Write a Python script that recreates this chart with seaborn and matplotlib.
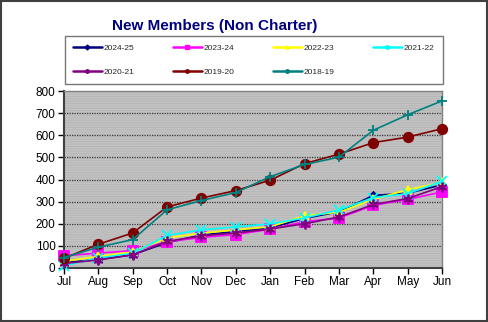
import matplotlib
matplotlib.use("Agg")
import matplotlib.pyplot as plt
from matplotlib.lines import Line2D
from matplotlib.patches import Rectangle
import seaborn as sns
import pandas as pd

months = ["Jul", "Aug", "Sep", "Oct", "Nov", "Dec", "Jan", "Feb", "Mar", "Apr", "May", "Jun"]

fy_2024_25 = [24, 38, 60, 114, 149, 165, 181, 224, 254, 328, 338, 376]
fy_2023_24 = [55, 67, 78, 118, 138, 151, 175, 209, 226, 283, 310, 344]
fy_2022_23 = [30, 52, 72, 136, 157, 172, 186, 236, 252, 310, 354, 387]
fy_2021_22 = [10, 45, 66, 147, 172, 186, 199, 226, 262, 318, 336, 392]
fy_2020_21 = [20, 36, 59, 120, 145, 158, 176, 200, 230, 287, 314, 368]
fy_2019_20 = [43, 107, 158, 276, 316, 350, 397, 472, 515, 567, 592, 630]
fy_2018_19 = [47, 94, 128, 263, 305, 341, 413, 468, 501, 623, 693, 756]

series_names = ["2024-25", "2023-24", "2022-23", "2021-22", "2020-21", "2019-20", "2018-19"]
series_values = [fy_2024_25, fy_2023_24, fy_2022_23, fy_2021_22, fy_2020_21, fy_2019_20, fy_2018_19]

colors = ["#000080", "#FF00FF", "#FFFF00", "#00FFFF", "#800080", "#800000", "#008080"]
markers = ["D", "s", "^", "x", (6, 2, 0), "o", "+"]
msizes = [3.5, 6.5, 5.5, 6.5, 7, 6.8, 7]

records = []
for name, vals in zip(series_names, series_values):
    for m, v in zip(months, vals):
        records.append({"Month": m, "Season": name, "Members": v})
df = pd.DataFrame(records)

sns.set_theme(style="white")
plt.rcParams["font.family"] = ["Liberation Sans", "DejaVu Sans"]
plt.rcParams["hatch.linewidth"] = 0.7

fig = plt.figure(figsize=(4.88, 3.22), dpi=100)
ax = fig.add_axes([0.131, 0.168, 0.775, 0.549])

palette = dict(zip(series_names, colors))
sns.lineplot(data=df, x="Month", y="Members", hue="Season",
             hue_order=series_names, palette=palette,
             sort=False, linewidth=1.2, ax=ax, legend=False)

for line, c, mk, ms in zip(ax.lines, colors, markers, msizes):
    line.set_marker(mk)
    line.set_markersize(ms)
    line.set_markerfacecolor(c)
    line.set_markeredgecolor(c)
    line.set_markeredgewidth(1.3)
    line.set_clip_on(False)
    line.set_zorder(3)

# striped grey plot area
ax.set_facecolor("#C2C2C2")
bg = Rectangle((0, 0), 1, 1, transform=ax.transAxes, facecolor="#C2C2C2",
               edgecolor="#B7B7B7", hatch="-------", lw=0, zorder=0)
ax.add_patch(bg)

ax.set_ylim(0, 800)
ax.set_xlim(0, len(months) - 1)
ax.set_yticks(range(0, 801, 100))
ax.set_xticks(range(len(months)))
ax.set_xticklabels(months)
for y in range(100, 800, 100):
    ax.axhline(y, color="#383838", linestyle=(0, (1, 1)), linewidth=0.9, zorder=1)

ax.set_xlabel("")
ax.set_ylabel("")
ax.tick_params(axis="both", labelsize=8.5, colors="#000000", length=4, width=1,
               direction="out", pad=2, left=True, bottom=True)
for side in ["left", "bottom"]:
    ax.spines[side].set_color("#404040")
    ax.spines[side].set_linewidth(1.5)
for side in ["top", "right"]:
    ax.spines[side].set_color("#808080")
    ax.spines[side].set_linewidth(1.0)

fig.text(0.44, 0.92, "New Members (Non Charter)", ha="center", va="center",
         fontsize=11, fontweight="bold", color="#000080")

handles = [Line2D([0], [0], color=c, lw=1.8, marker=m if m not in ("x", "+", (6, 2, 0)) else "o",
                  markersize=2.5, markerfacecolor=c, markeredgecolor=c)
           for c, m in zip(colors, markers)]
order = [0, 4, 1, 5, 2, 6, 3]
leg = fig.legend([handles[i] for i in order], [series_names[i] for i in order],
                 ncol=4, loc="lower left", bbox_to_anchor=(0.133, 0.738, 0.775, 0.152),
                 mode="expand", fontsize=6, frameon=True, fancybox=False,
                 handlelength=3.4, handletextpad=0.3, borderaxespad=0,
                 labelspacing=1.9, borderpad=1.0)
leg.get_frame().set_edgecolor("#555555")
leg.get_frame().set_linewidth(1.0)

fig.patches.append(Rectangle((0.002, 0.003), 0.995, 0.994, transform=fig.transFigure,
                             fill=False, edgecolor="#404040", linewidth=1.5))

fig.savefig("out.png", dpi=100)
